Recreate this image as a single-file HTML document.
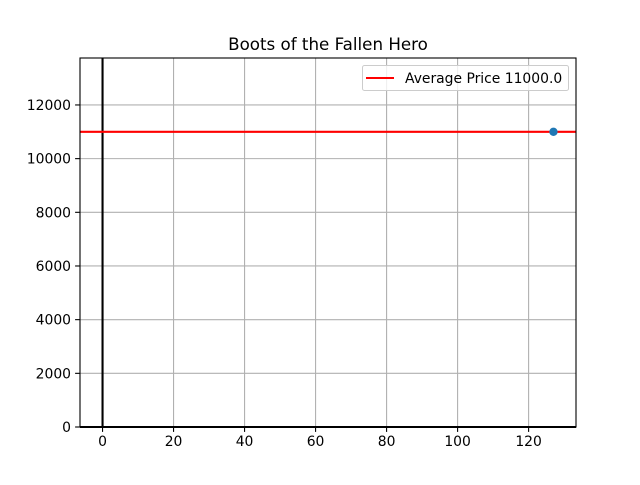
<!DOCTYPE html>
<html><head><meta charset="utf-8"><style>
body{margin:0;background:#fff;font-family:"Liberation Sans","DejaVu Sans",sans-serif;}
svg text{font-family:"DejaVu Sans","Liberation Sans",sans-serif;}
</style></head><body>
<svg id="chart" width="640" height="480" xmlns="http://www.w3.org/2000/svg"></svg>
<script>
const xTicks=[0,20,40,60,80,100,120];
const yTicks=[0,2000,4000,6000,8000,10000,12000];
const pointsX=[127];
const pointsY=[11000];
const avgPrice=[11000];
const title="Boots of the Fallen Hero";
const legendLabels=["Average Price 11000.0"];

const L=80,R=576,T=58,B=427;
const xMin=-6.35,xMax=133.35,yMin=0,yMax=13750;
const sx=v=>L+(v-xMin)/(xMax-xMin)*(R-L);
const sy=v=>B-(v-yMin)/(yMax-yMin)*(B-T);
const svg=document.getElementById('chart');
const NS="http://www.w3.org/2000/svg";
function mk(tag,attrs,parent){const e=document.createElementNS(NS,tag);for(const k in attrs)e.setAttribute(k,attrs[k]);(parent||svg).appendChild(e);return e;}

const grid=mk('g',{});


xTicks.forEach(t=>{mk('line',{x1:sx(t),x2:sx(t),y1:T,y2:B,stroke:'#b0b0b0','stroke-width':1.1},grid);});
yTicks.forEach(t=>{mk('line',{x1:L,x2:R,y1:sy(t),y2:sy(t),stroke:'#b0b0b0','stroke-width':1.1},grid);});

const xAxis=mk('g',{});


xTicks.forEach(t=>{
  mk('line',{x1:sx(t),x2:sx(t),y1:B,y2:B+4.9,stroke:'#000','stroke-width':1.1},xAxis);
  const tx=mk('text',{x:sx(t),y:B+19,'text-anchor':'middle','font-size':13.9,fill:'#000'},xAxis);
  tx.textContent=t;
});
const yAxis=mk('g',{});


yTicks.forEach(t=>{
  mk('line',{x1:L-4.9,x2:L,y1:sy(t),y2:sy(t),stroke:'#000','stroke-width':1.1},yAxis);
  const tx=mk('text',{x:L-9,y:sy(t)+5,'text-anchor':'end','font-size':13.9,fill:'#000'},yAxis);
  tx.textContent=t;
});

const vz=mk('line',{x1:sx(0),x2:sx(0),y1:T,y2:B,stroke:'#000','stroke-width':2.1});


const hz=mk('line',{x1:L,x2:R,y1:sy(0),y2:sy(0),stroke:'#000','stroke-width':2.1});



const avg=mk('line',{x1:L,x2:R,y1:sy(avgPrice[0]),y2:sy(avgPrice[0]),stroke:'#ff0000','stroke-width':2.1});



pointsX.forEach((x,i)=>{
  const c=mk('circle',{cx:sx(x),cy:sy(pointsY[i]),r:4.2,fill:'#1f77b4'});
  
  
});

const sp=mk('rect',{x:L,y:T,width:R-L,height:B-T,fill:'none',stroke:'#000','stroke-width':1.1});



const tt=mk('text',{x:(L+R)/2,y:T-8,'text-anchor':'middle','font-size':16.7,fill:'#000'});
tt.textContent=title;



const lg=mk('g',{});


mk('rect',{x:362.5,y:65.5,width:206,height:25,rx:2,fill:'#fff','fill-opacity':0.8,stroke:'#ccc','stroke-width':1},lg);
mk('line',{x1:366,x2:394,y1:78,y2:78,stroke:'#ff0000','stroke-width':2.1},lg);
const lt=mk('text',{x:405,y:83,'font-size':13.9,fill:'#000'},lg);
lt.textContent=legendLabels[0];
</script>
</body></html>
